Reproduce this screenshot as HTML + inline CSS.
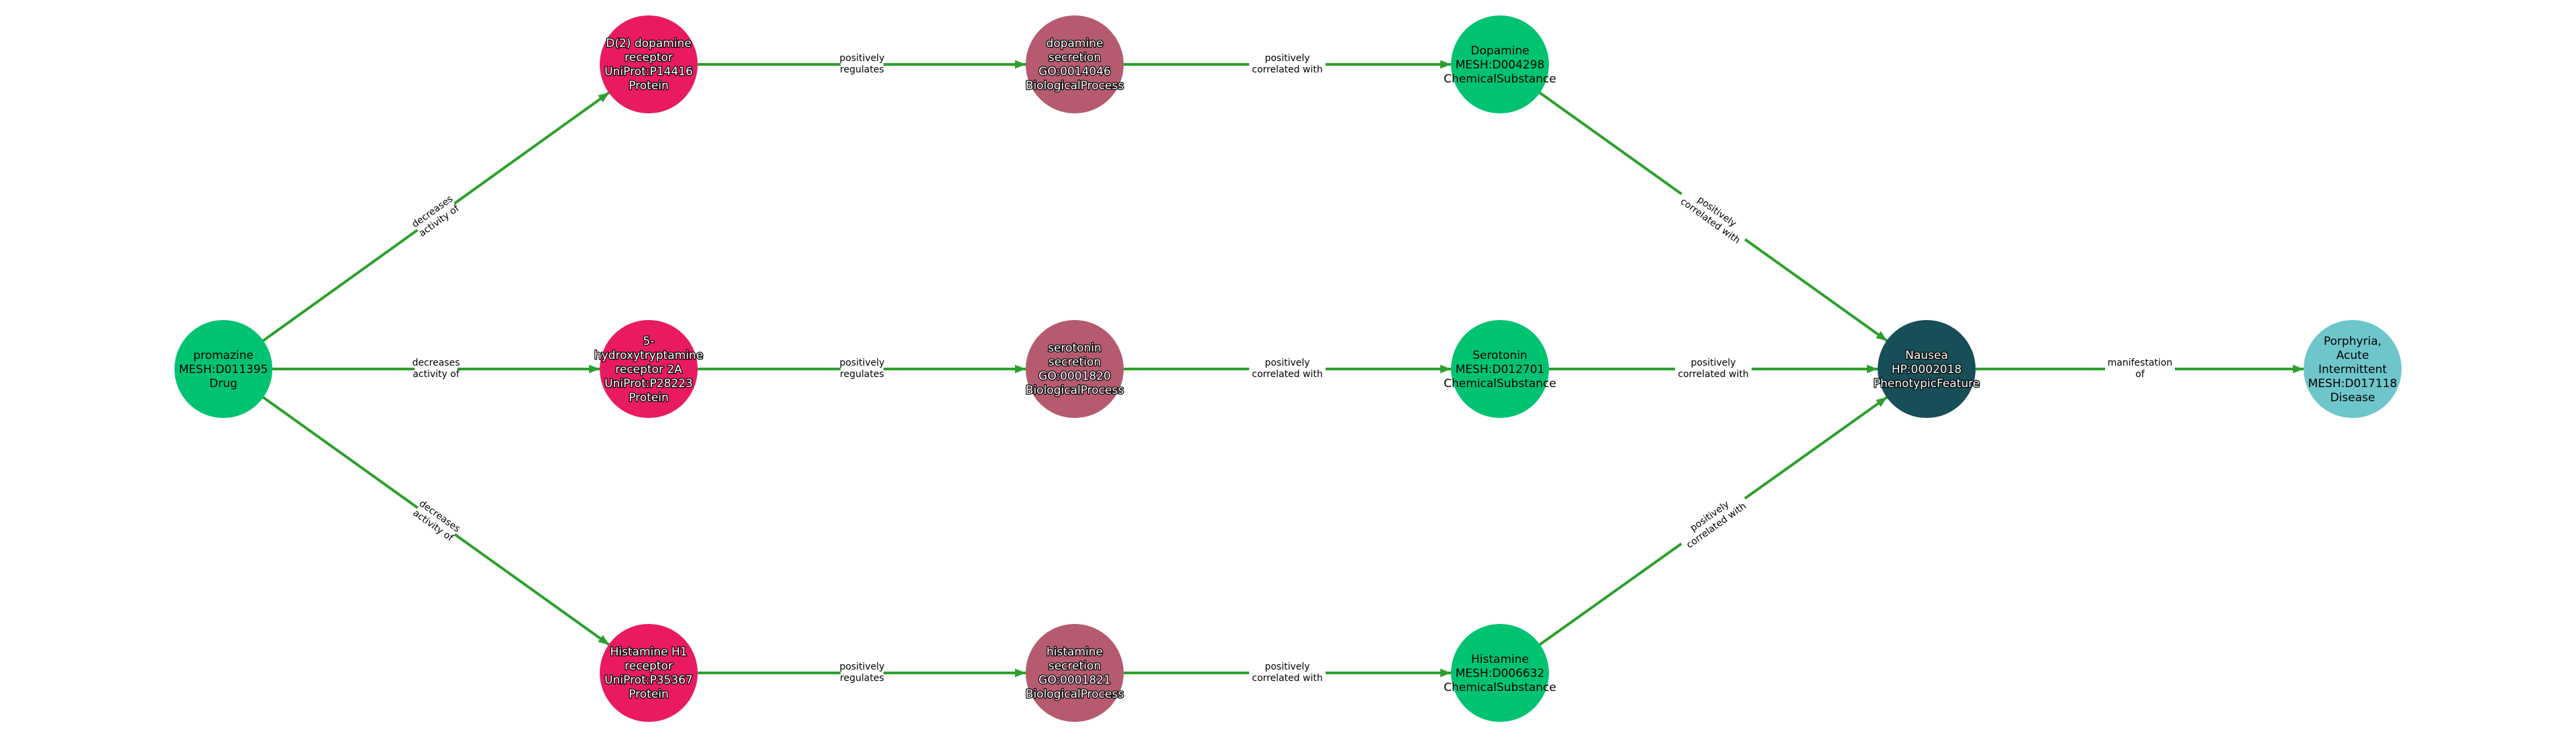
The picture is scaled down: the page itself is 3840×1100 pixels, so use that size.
<!DOCTYPE html>
<html><head><meta charset="utf-8"><style>
html,body{margin:0;padding:0;background:#fff;width:3840px;height:1100px;overflow:hidden}
svg{display:block}
.n{font-family:"DejaVu Sans","Liberation Sans",sans-serif;font-size:17px;text-anchor:middle}
.w{fill:#fff;stroke:#000;stroke-width:2.5px;paint-order:stroke;stroke-linejoin:round}
.b{fill:#000}
.e{font-family:"DejaVu Sans","Liberation Sans",sans-serif;font-size:14px;text-anchor:middle;fill:#000}
.l{stroke:#2ca02c;stroke-width:4;fill:none}
</style></head><body>
<svg width="3840" height="1100" viewBox="0 0 3840 1100" xmlns="http://www.w3.org/2000/svg">
<defs><marker id="a" viewBox="0 0 10 10" refX="10" refY="5" markerWidth="4" markerHeight="4" orient="auto" markerUnits="strokeWidth"><path d="M0,1 L10,5 L0,9 z" fill="#2ca02c"/></marker></defs>
<g class="l" marker-end="url(#a)">
<line x1="392" y1="508" x2="908" y2="138"/>
<line x1="406" y1="550" x2="894" y2="550"/>
<line x1="392" y1="592" x2="908" y2="961"/>
<line x1="1040" y1="96" x2="1529" y2="96"/>
<line x1="1040" y1="550" x2="1529" y2="550"/>
<line x1="1040" y1="1003" x2="1529" y2="1003"/>
<line x1="1675" y1="96" x2="2163" y2="96"/>
<line x1="1675" y1="550" x2="2163" y2="550"/>
<line x1="1675" y1="1003" x2="2163" y2="1003"/>
<line x1="2295" y1="138" x2="2813" y2="508"/>
<line x1="2309" y1="550" x2="2799" y2="550"/>
<line x1="2295" y1="961" x2="2813" y2="592"/>
<line x1="2945" y1="550" x2="3434" y2="550"/>
</g>
<!-- edge labels -->
<g>
<rect x="618" y="531" width="64" height="38" fill="#fff"/><text class="e" x="650" y="545">decreases</text><text class="e" x="650" y="562">activity of</text>
<rect x="1253" y="77" width="64" height="38" fill="#fff"/><text class="e" x="1285" y="91">positively</text><text class="e" x="1285" y="108">regulates</text>
<rect x="1253" y="531" width="64" height="38" fill="#fff"/><text class="e" x="1285" y="545">positively</text><text class="e" x="1285" y="562">regulates</text>
<rect x="1253" y="984" width="64" height="38" fill="#fff"/><text class="e" x="1285" y="998">positively</text><text class="e" x="1285" y="1015">regulates</text>
<rect x="1862" y="77" width="114" height="38" fill="#fff"/><text class="e" x="1919" y="91">positively</text><text class="e" x="1919" y="108">correlated with</text>
<rect x="1862" y="531" width="114" height="38" fill="#fff"/><text class="e" x="1919" y="545">positively</text><text class="e" x="1919" y="562">correlated with</text>
<rect x="1862" y="984" width="114" height="38" fill="#fff"/><text class="e" x="1919" y="998">positively</text><text class="e" x="1919" y="1015">correlated with</text>
<rect x="2497" y="531" width="114" height="38" fill="#fff"/><text class="e" x="2554" y="545">positively</text><text class="e" x="2554" y="562">correlated with</text>
<rect x="3138" y="531" width="104" height="38" fill="#fff"/><text class="e" x="3190" y="545">manifestation</text><text class="e" x="3190" y="562">of</text>
<g transform="translate(650,323) rotate(-35.6)"><rect x="-34" y="-19" width="68" height="38" fill="#fff"/><text class="e" x="0" y="-5">decreases</text><text class="e" x="0" y="12">activity of</text></g>
<g transform="translate(650,777) rotate(35.6)"><rect x="-34" y="-19" width="68" height="38" fill="#fff"/><text class="e" x="0" y="-5">decreases</text><text class="e" x="0" y="12">activity of</text></g>
<g transform="translate(2554,323) rotate(35.6)"><rect x="-58" y="-19" width="116" height="38" fill="#fff"/><text class="e" x="0" y="-5">positively</text><text class="e" x="0" y="12">correlated with</text></g>
<g transform="translate(2554,777) rotate(-35.6)"><rect x="-58" y="-19" width="116" height="38" fill="#fff"/><text class="e" x="0" y="-5">positively</text><text class="e" x="0" y="12">correlated with</text></g>
</g>
<!-- nodes -->
<circle cx="333" cy="550" r="73" fill="#00c371"/>
<text class="n b" x="333" y="535">promazine</text><text class="n b" x="333" y="556">MESH:D011395</text><text class="n b" x="333" y="577">Drug</text>

<circle cx="967" cy="96" r="73" fill="#e91a62"/>
<text class="n w" x="967" y="70">D(2) dopamine</text><text class="n w" x="967" y="91">receptor</text><text class="n w" x="967" y="112">UniProt:P14416</text><text class="n w" x="967" y="133">Protein</text>

<circle cx="967" cy="550" r="73" fill="#e91a62"/>
<text class="n w" x="967" y="514">5-</text><text class="n w" x="967" y="535">hydroxytryptamine</text><text class="n w" x="967" y="556">receptor 2A</text><text class="n w" x="967" y="577">UniProt:P28223</text><text class="n w" x="967" y="598">Protein</text>

<circle cx="967" cy="1003" r="73" fill="#e91a62"/>
<text class="n w" x="967" y="977">Histamine H1</text><text class="n w" x="967" y="998">receptor</text><text class="n w" x="967" y="1019">UniProt:P35367</text><text class="n w" x="967" y="1040">Protein</text>

<circle cx="1602" cy="96" r="73" fill="#b55a6f"/>
<text class="n w" x="1602" y="70">dopamine</text><text class="n w" x="1602" y="91">secretion</text><text class="n w" x="1602" y="112">GO:0014046</text><text class="n w" x="1602" y="133">BiologicalProcess</text>

<circle cx="1602" cy="550" r="73" fill="#b55a6f"/>
<text class="n w" x="1602" y="524">serotonin</text><text class="n w" x="1602" y="545">secretion</text><text class="n w" x="1602" y="566">GO:0001820</text><text class="n w" x="1602" y="587">BiologicalProcess</text>

<circle cx="1602" cy="1003" r="73" fill="#b55a6f"/>
<text class="n w" x="1602" y="977">histamine</text><text class="n w" x="1602" y="998">secretion</text><text class="n w" x="1602" y="1019">GO:0001821</text><text class="n w" x="1602" y="1040">BiologicalProcess</text>

<circle cx="2236" cy="96" r="73" fill="#00c371"/>
<text class="n b" x="2236" y="81">Dopamine</text><text class="n b" x="2236" y="102">MESH:D004298</text><text class="n b" x="2236" y="123">ChemicalSubstance</text>

<circle cx="2236" cy="550" r="73" fill="#00c371"/>
<text class="n b" x="2236" y="535">Serotonin</text><text class="n b" x="2236" y="556">MESH:D012701</text><text class="n b" x="2236" y="577">ChemicalSubstance</text>

<circle cx="2236" cy="1003" r="73" fill="#00c371"/>
<text class="n b" x="2236" y="988">Histamine</text><text class="n b" x="2236" y="1009">MESH:D006632</text><text class="n b" x="2236" y="1030">ChemicalSubstance</text>

<circle cx="2872" cy="550" r="73" fill="#174e57"/>
<text class="n w" x="2872" y="535">Nausea</text><text class="n w" x="2872" y="556">HP:0002018</text><text class="n w" x="2872" y="577">PhenotypicFeature</text>

<circle cx="3507" cy="550" r="73" fill="#6ec6ca"/>
<text class="n b" x="3507" y="514">Porphyria,</text><text class="n b" x="3507" y="535">Acute</text><text class="n b" x="3507" y="556">Intermittent</text><text class="n b" x="3507" y="577">MESH:D017118</text><text class="n b" x="3507" y="598">Disease</text>
</svg>
</body></html>
